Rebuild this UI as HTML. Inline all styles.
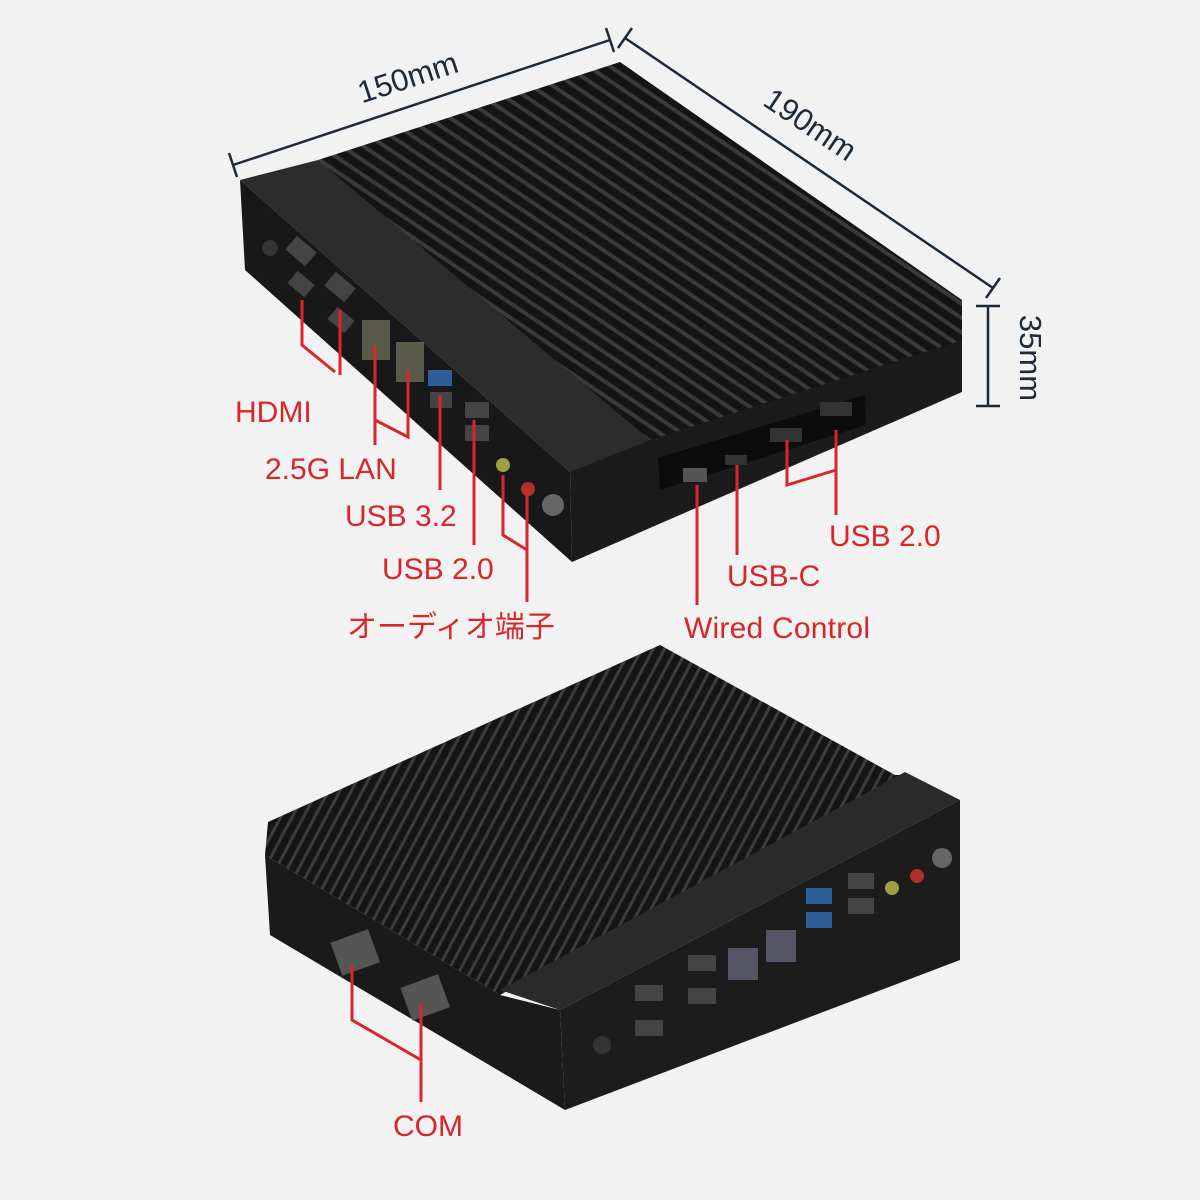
<!DOCTYPE html>
<html><head><meta charset="utf-8"><style>
html,body{margin:0;padding:0;background:#f2f2f2;}
svg{display:block}
text{font-family:"Liberation Sans","Noto Sans CJK JP",sans-serif;}
</style></head><body>
<svg width="1200" height="1200" viewBox="0 0 1200 1200" xmlns="http://www.w3.org/2000/svg">
<defs>
<pattern id="finA" width="12" height="12" patternUnits="userSpaceOnUse" patternTransform="rotate(34)">
<rect width="12" height="12" fill="#141414"/><rect width="12" height="4" fill="#3a3a3a"/>
</pattern>
<pattern id="finB" width="10" height="10" patternUnits="userSpaceOnUse" patternTransform="rotate(-62)">
<rect width="10" height="10" fill="#151515"/><rect width="10" height="3" fill="#3c3c3c"/>
</pattern>
</defs>
<rect width="1200" height="1200" fill="#f2f2f2"/>

<!-- TOP DEVICE -->
<polygon points="318,160 620,62 962,300 962,345 655,455" fill="url(#finA)"/>
<polygon points="650,440 962,340 962,392 572,562 570,470" fill="#1b1b1b"/>
<polygon points="658,458 865,395 866,425 660,490" fill="#0c0c0c"/>
<polygon points="240,180 318,160 650,440 570,472" fill="#2c2c2c"/>
<polygon points="240,180 570,472 572,562 245,270" fill="#181818"/>
<g fill="#444">
<rect x="288" y="242" width="26" height="18" transform="rotate(40 301 251)"/>
<rect x="290" y="276" width="22" height="16" transform="rotate(40 301 284)"/>
<rect x="327" y="278" width="26" height="18" transform="rotate(40 340 287)"/>
<rect x="330" y="312" width="22" height="16" transform="rotate(40 341 320)"/>
<rect x="362" y="320" width="28" height="40" fill="#5a5a4a"/>
<rect x="396" y="342" width="28" height="40" fill="#5a5a4a"/>
<rect x="428" y="370" width="24" height="16" fill="#2b5f95"/>
<rect x="430" y="392" width="22" height="16"/>
<rect x="465" y="402" width="24" height="16"/>
<rect x="465" y="425" width="24" height="16"/>
<circle cx="503" cy="465" r="7" fill="#a0a040"/>
<circle cx="528" cy="489" r="7" fill="#b03030"/>
<circle cx="553" cy="505" r="11" fill="#666"/>
<circle cx="270" cy="248" r="8" fill="#333"/>
<rect x="683" y="468" width="24" height="14" fill="#555"/>
<rect x="725" y="455" width="22" height="10" fill="#333"/>
<rect x="770" y="428" width="32" height="14" fill="#333"/>
<rect x="820" y="402" width="32" height="14" fill="#333"/>
</g>

<!-- BOTTOM DEVICE -->
<polygon points="268,822 660,645 895,775 905,775 500,995 265,855" fill="url(#finB)"/>
<polygon points="500,990 905,772 960,800 560,1010" fill="#2a2a2a"/>
<polygon points="265,855 500,995 560,1010 565,1110 270,935" fill="#1a1a1a"/>
<polygon points="560,1010 960,800 960,960 565,1110" fill="#1c1c1c"/>
<g fill="#444">
<rect x="335" y="935" width="40" height="35" fill="#555" transform="rotate(-20 355 952)"/>
<rect x="405" y="980" width="40" height="35" fill="#555" transform="rotate(-20 425 997)"/>
<rect x="635" y="985" width="28" height="16"/><rect x="635" y="1020" width="28" height="16"/>
<rect x="688" y="955" width="28" height="16"/><rect x="688" y="988" width="28" height="16"/>
<rect x="728" y="948" width="30" height="32" fill="#556"/>
<rect x="766" y="930" width="30" height="32" fill="#556"/>
<rect x="806" y="888" width="26" height="16" fill="#2b5f95"/>
<rect x="806" y="912" width="26" height="16" fill="#2b5f95"/>
<rect x="848" y="873" width="26" height="16"/><rect x="848" y="898" width="26" height="16"/>
<circle cx="892" cy="888" r="7" fill="#a0a040"/>
<circle cx="917" cy="876" r="7" fill="#b03030"/>
<circle cx="942" cy="858" r="10" fill="#666"/>
<circle cx="602" cy="1045" r="9" fill="#333"/>
</g>

<!-- DIMENSIONS -->
<g stroke="#1c2a3a" stroke-width="2.5" fill="none">
<line x1="233" y1="165" x2="610" y2="40"/>
<line x1="229" y1="153" x2="237" y2="177"/><line x1="606" y1="28" x2="614" y2="52"/>
<line x1="625" y1="38" x2="993" y2="288"/>
<line x1="618" y1="48" x2="632" y2="28"/><line x1="986" y1="298" x2="1000" y2="278"/>
<line x1="988" y1="306" x2="988" y2="406"/>
<line x1="976" y1="306" x2="1000" y2="306"/><line x1="976" y1="406" x2="1000" y2="406"/>
</g>
<g fill="#1c2a3a" font-size="31">
<text x="408" y="88" text-anchor="middle" transform="rotate(-18 408 78)">150mm</text>
<text x="810" y="135" text-anchor="middle" transform="rotate(34 810 125)">190mm</text>
<text x="1030" y="368" text-anchor="middle" transform="rotate(90 1030 358)">35mm</text>
</g>

<!-- RED CALLOUTS -->
<g stroke="#d8262b" stroke-width="3" fill="none">
<polyline points="302,300 302,345 335,372"/><line x1="340" y1="310" x2="340" y2="375"/>
<line x1="375" y1="345" x2="375" y2="445"/><polyline points="375,420 408,437 408,370"/>
<line x1="440" y1="395" x2="440" y2="490"/>
<line x1="474" y1="420" x2="474" y2="545"/>
<polyline points="503,475 503,535 527,550"/><line x1="527" y1="490" x2="527" y2="602"/>
<line x1="697" y1="485" x2="697" y2="605"/>
<line x1="737" y1="465" x2="737" y2="555"/>
<polyline points="787,440 787,485 836,470"/><line x1="836" y1="430" x2="836" y2="515"/>
<polyline points="352,965 352,1020 421,1060"/><line x1="421" y1="1005" x2="421" y2="1102"/>
</g>
<g fill="#d8262b" font-size="30">
<text x="235" y="422">HDMI</text>
<text x="265" y="479">2.5G LAN</text>
<text x="345" y="526">USB 3.2</text>
<text x="382" y="579">USB 2.0</text>
<text x="347" y="637">オーディオ端子</text>
<text x="684" y="638" textLength="186">Wired Control</text>
<text x="727" y="586">USB-C</text>
<text x="829" y="546">USB 2.0</text>
<text x="393" y="1136">COM</text>
</g>
</svg>
</body></html>
